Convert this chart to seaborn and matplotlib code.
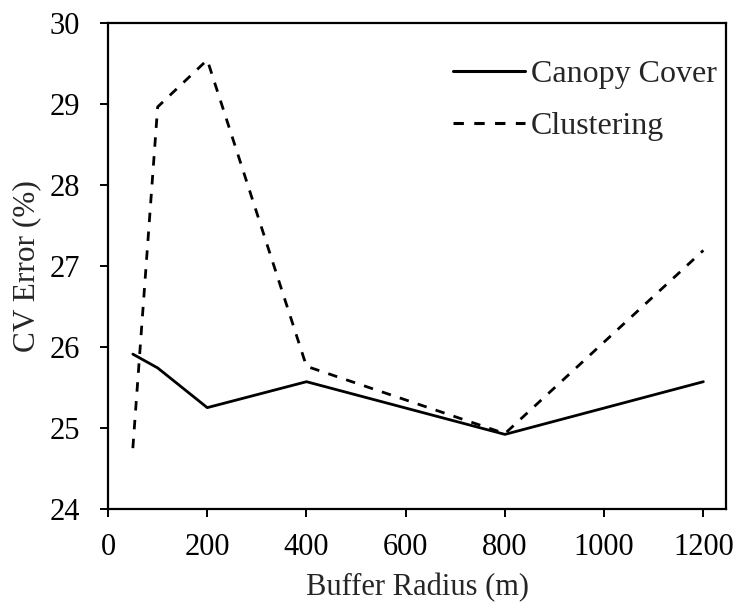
import matplotlib
matplotlib.use("Agg")
import matplotlib.pyplot as plt
import seaborn as sns
import pandas as pd

# Buffer radii (m) and cross-validation error (%) for each predictor
radius = [50, 100, 200, 400, 800, 1200]
canopy_cover = [25.91, 25.74, 25.25, 25.57, 24.92, 25.57]
clustering = [24.75, 28.96, 29.54, 25.76, 24.93, 27.19]

x_ticks = [0, 200, 400, 600, 800, 1000, 1200]
y_ticks = [24, 25, 26, 27, 28, 29, 30]

sns.set_theme(style="ticks")
plt.rcParams["font.family"] = ["Liberation Serif", "DejaVu Serif"]

df = pd.DataFrame({
    "radius": radius * 2,
    "error": canopy_cover + clustering,
    "series": ["Canopy Cover"] * len(radius) + ["Clustering"] * len(radius),
})

fig = plt.figure(figsize=(7.35, 6.11), dpi=100)
ax = fig.add_axes([0.147, 0.167, 0.841, 0.796])

sns.lineplot(
    data=df, x="radius", y="error", hue="series", style="series",
    palette={"Canopy Cover": "black", "Clustering": "black"},
    dashes={"Canopy Cover": "", "Clustering": (3.4, 3.4)},
    linewidth=2.0, ax=ax, legend=True,
)

ax.set_xlim(0, 1246)
ax.set_ylim(24, 30)
ax.set_xticks(x_ticks)
ax.set_yticks(y_ticks)
ax.tick_params(axis="both", direction="out", length=6, width=1.4,
               labelsize=22, colors="black")
ax.tick_params(axis="y", pad=14)
ax.tick_params(axis="x", pad=11)
for s in ax.spines.values():
    s.set_linewidth(1.6)
    s.set_color("black")
    s.set_visible(True)

ax.set_xlabel("Buffer Radius (m)", fontsize=22, labelpad=8)
ax.set_ylabel("CV Error (%)", fontsize=22.5, labelpad=6)

leg = ax.legend(title=None, frameon=False, fontsize=23, loc="upper right",
                handlelength=2.25, handletextpad=0.2, labelspacing=0.7,
                borderaxespad=0.0, bbox_to_anchor=(1.006, 0.95))
for h in leg.get_lines():
    h.set_linewidth(2.2)

fig.savefig("out.png", dpi=100)
